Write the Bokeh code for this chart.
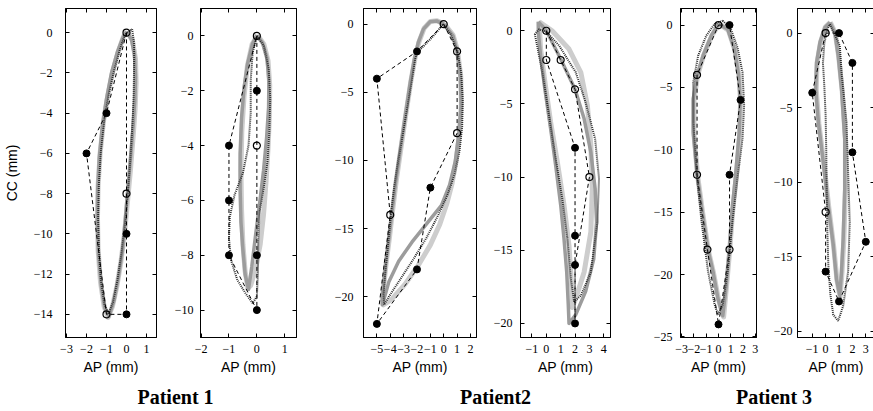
from bokeh.plotting import figure
from bokeh.layouts import row, column
from bokeh.models import Range1d, LinearAxis, FixedTicker, Label
from bokeh.embed import file_html
from bokeh.resources import INLINE

# ---------------- data ----------------
# Patient 1, left panel
p1_px = [0, -1, -2, -1, 0, 0, 0]
p1_py = [0, -4, -6, -14, -14, -10, -8]
p1_hollow = [1, 0, 0, 1, 0, 0, 1]
p1_mid_x = [0, 0.25, 0.4, 0.45, 0.42, 0.34, 0.22, 0.07, -0.06, -0.2, -0.4, -0.62, -0.88, -1.08, -1.26, -1.4, -1.46, -1.44, -1.36, -1.2, -1.0, -0.75, -0.45, -0.18]
p1_mid_y = [0.05, -0.35, -1.1, -2.2, -3.3, -4.5, -6, -7.7, -9.3, -10.8, -12.1, -13.3, -14.1, -13.7, -12.6, -11, -9.4, -7.8, -6.2, -4.6, -3.3, -2.0, -0.95, -0.25]
p1_lt_x = [0.05, 0.3, 0.45, 0.48, 0.43, 0.33, 0.2, 0.05, -0.1, -0.28, -0.48, -0.7, -0.92, -1.12, -1.3, -1.42, -1.45, -1.42, -1.32, -1.15, -0.93, -0.68, -0.4, -0.15]
p1_lt_y = [0.05, -0.4, -1.3, -2.5, -3.8, -5.2, -6.8, -8.4, -10, -11.4, -12.6, -13.6, -14.15, -13.6, -12.4, -10.8, -9.2, -7.6, -6, -4.4, -3.1, -1.9, -0.9, -0.2]
p1_dot_x = [0.28, 0.38, 0.38, 0.36, 0.3, 0.2, 0.07, -0.08, -0.25, -0.45, -0.68, -0.9, -1.1, -1.28, -1.38, -1.42, -1.38, -1.28, -1.1, -0.88, -0.62, -0.35, -0.08]
p1_dot_y = [0.18, -0.5, -1.6, -3, -4.5, -6.2, -7.9, -9.5, -11, -12.3, -13.4, -14.0, -13.5, -12.3, -10.8, -9.2, -7.5, -5.9, -4.3, -3, -1.9, -0.9, -0.1]

# Patient 1, right panel
p2_px = [0, 0, 0, 0, 0, -1, -1, -1]
p2_py = [0, -2, -4, -8, -10, -8, -6, -4]
p2_hollow = [1, 0, 1, 0, 0, 0, 0, 0]
p2_mid_x = [0, 0.2, 0.36, 0.43, 0.42, 0.35, 0.24, 0.1, -0.05, -0.18, -0.3, -0.42, -0.5, -0.57, -0.6, -0.6, -0.55, -0.46, -0.33, -0.16]
p2_mid_y = [0.02, -0.25, -0.8, -1.6, -2.6, -3.7, -4.9, -6.1, -7.3, -8.4, -9.25, -8.7, -7.8, -6.8, -5.6, -4.3, -3.0, -1.9, -1.0, -0.3]
p2_lt_x = [0.03, 0.25, 0.4, 0.46, 0.45, 0.4, 0.33, 0.24, 0.12, -0.05, -0.22, -0.32, -0.42, -0.5, -0.55, -0.57, -0.54, -0.46, -0.34, -0.17]
p2_lt_y = [0.02, -0.3, -0.9, -1.8, -2.9, -4.1, -5.3, -6.5, -7.6, -8.5, -9.1, -9.2, -8.6, -7.6, -6.3, -4.9, -3.5, -2.2, -1.1, -0.3]
p2_dot_x = [0, 0.25, 0.42, 0.48, 0.45, 0.38, 0.25, 0.1, 0.05, 0.04, 0.0, -0.15, -0.4, -0.7, -0.92, -1.0, -0.97, -0.8, -0.5, -0.3, -0.22, -0.22, -0.15]
p2_dot_y = [0, -0.35, -1.2, -2.3, -3.5, -4.6, -5.5, -6.4, -7.5, -8.6, -9.5, -9.75, -9.4, -8.9, -8.2, -7.4, -6.6, -5.8, -5.0, -4.0, -2.8, -1.6, -0.6]

# Patient 2, left panel
p3_px = [0, 1, 1, -1, -2, -5, -4, -5, -2]
p3_py = [0, -2, -8, -12, -18, -22, -14, -4, -2]
p3_hollow = [1, 1, 1, 0, 0, 0, 1, 0, 0]
p3_mid_x = [0, 0.69, 1.0, 1.25, 1.3, 1.13, 0.86, 0.44, -0.17, -1.15, -2.38, -3.37, -4.1, -4.47, -4.6, -4.55, -4.35, -4.1, -3.9, -3.6, -3.24, -2.87, -2.5, -2.19, -1.9, -1.52, -1.03, -0.54]
p3_mid_y = [0, -0.85, -2, -4, -6, -8, -10.1, -11.8, -13.3, -14.5, -16, -17.4, -18.9, -20.2, -20.6, -19.6, -17.7, -15.7, -14, -11.6, -9.15, -6.7, -4.27, -2.56, -1.34, -0.37, 0.17, 0.24]
p3_lt_x = [0.05, 0.7, 1.02, 1.27, 1.32, 1.2, 0.95, 0.62, 0.22, -0.3, -1.0, -1.9, -2.9, -3.9, -4.5, -4.6, -4.5, -4.3, -4.05, -3.85, -3.55, -3.2, -2.83, -2.46, -2.15, -1.85, -1.47, -1.0, -0.5]
p3_lt_y = [0, -0.8, -1.9, -3.8, -5.8, -7.9, -9.9, -11.7, -13.2, -14.7, -16.2, -17.7, -19.1, -20.2, -20.6, -20.2, -19.3, -17.5, -15.6, -13.9, -11.5, -9.1, -6.6, -4.2, -2.5, -1.3, -0.3, 0.2, 0.25]
p3_dot_x = [-0.05, 0.5, 1.0, 1.3, 1.42, 1.38, 1.18, 0.82, 0.3, -0.4, -1.3, -2.3, -3.3, -4.1, -4.45, -4.5, -4.35, -4.15, -3.95, -3.7, -3.4, -3.05, -2.7, -2.4, -2.15, -2.0, -1.5, -1.0, -0.5]
p3_dot_y = [0.0, -0.7, -1.9, -3.5, -5.5, -7.5, -9.3, -11.0, -12.5, -14.0, -15.7, -17.3, -18.8, -20.0, -20.6, -19.8, -18.0, -16.0, -14.0, -12.0, -10.0, -8.0, -6.0, -4.2, -2.6, -2.1, -1.6, -1.1, -0.55]

# Patient 2, right panel
p4_px = [0, 0, 2, 2, 2, 2, 3, 2, 1]
p4_py = [0, -2, -8, -14, -20, -16, -10, -4, -2]
p4_hollow = [1, 1, 0, 0, 0, 0, 1, 1, 1]
p4_mid_x = [-0.56, -0.3, 0, 1.0, 2.0, 2.63, 3.1, 3.4, 3.5, 3.3, 2.74, 2.05, 1.58, 1.53, 1.42, 1.23, 1.0, 0.65, 0.3, -0.1, -0.4, -0.56]
p4_mid_y = [0.61, 0.35, 0, -1.93, -4, -6.0, -8.3, -10.8, -13.1, -15.6, -17.8, -19.4, -20.0, -18.75, -16.5, -14.2, -11.9, -9.2, -6.7, -4, -1.7, -0.1]
p4_lt_x = [-0.5, 0.4, 1.58, 2.4, 2.86, 3.1, 3.2, 3.1, 2.63, 2.05, 1.8, 1.77, 1.58, 1.23, 0.77, 0.3, -0.1, -0.4]
p4_lt_y = [0.62, 0.0, -1.25, -2.84, -5.1, -7.8, -10.8, -13.75, -16.5, -18.3, -18.9, -17.6, -14.7, -11.9, -9.0, -6.25, -3.5, -1.25]
p4_dot_x = [-0.8, -0.28, 0.19, 0.65, 1.12, 1.47, 1.7, 1.93, 2.4, 3.1, 3.56, 3.67, 3.4, 2.74, 2.05, 0.88, 0.0, -0.5]
p4_dot_y = [-0.23, -2.84, -5.8, -8.75, -11.5, -14.2, -16.9, -18.5, -18.1, -16.5, -13.1, -10.1, -7.4, -4.9, -2.84, -1.0, -0.07, 0.1]

# Patient 3, left panel
p5_px = [0, 0.9, 1.8, 0.9, 0.9, 0, -0.9, -1.75, -1.75]
p5_py = [0, 0, -6, -12, -18, -24, -18, -12, -4]
p5_hollow = [1, 0, 0, 0, 1, 0, 1, 1, 1]
p5_mid_x = [0, 0.75, 1.29, 1.64, 1.77, 1.69, 1.42, 1.1, 0.88, 0.62, 0.35, -0.05, -0.46, -0.86, -1.34, -1.74, -2.06, -2.06, -1.74, -1.26, -0.59]
p5_mid_y = [0.08, -0.32, -1.9, -4.0, -6, -8.6, -11.75, -14.9, -18, -21, -23.3, -21.9, -19.7, -18, -14.9, -12, -8.6, -5.9, -4.04, -2.45, -0.85]
p5_lt_x = [0.05, 0.8, 1.33, 1.68, 1.8, 1.72, 1.47, 1.15, 0.92, 0.66, 0.42, 0.0, -0.42, -0.82, -1.3, -1.7, -2.0, -2.0, -1.7, -1.2, -0.52]
p5_lt_y = [0.1, -0.4, -2.0, -4.1, -6.2, -8.8, -11.9, -15.0, -18.0, -20.9, -23.4, -22.0, -19.8, -18.1, -15.0, -12.1, -8.8, -6.0, -4.0, -2.4, -0.8]
p5_dot_x = [0.35, 1.0, 1.55, 1.96, 2.09, 1.96, 1.55, 1.15, 0.75, 0.35, -0.05, -0.32, -0.86, -1.39, -1.8, -2.06, -2.06, -1.66, -1.0, -0.32]
p5_dot_y = [0.35, -0.3, -1.8, -3.8, -6.4, -9.1, -12.3, -15.7, -19.7, -22.4, -23.2, -22.4, -19.7, -15.7, -11.75, -7.8, -4.6, -2.45, -0.85, 0.08]

# Patient 3, right panel
p6_px = [0, 1, 2, 2, 3, 1, 0, 0, -1]
p6_py = [0, 0, -2, -8, -14, -18, -16, -12, -4]
p6_hollow = [1, 0, 0, 0, 0, 0, 0, 1, 0]
p6_mid_x = [0.32, 0.69, 0.94, 1.19, 1.43, 1.43, 1.31, 1.19, 1.06, 0.81, 0.57, 0.2, -0.17, -0.54, -0.74, -0.67, -0.42, -0.05]
p6_mid_y = [0.71, 0.04, -1.5, -3.75, -7.1, -10.4, -13.8, -16.0, -17.6, -16.5, -14.2, -11.6, -8.7, -6.0, -3.75, -1.96, -0.62, 0.38]
p6_lt_x = [0.35, 0.72, 0.98, 1.24, 1.48, 1.48, 1.36, 1.22, 1.08, 0.85, 0.6, 0.24, -0.12, -0.5, -0.7, -0.64, -0.38, -0.02]
p6_lt_y = [0.72, 0.0, -1.6, -3.9, -7.2, -10.5, -13.9, -16.1, -17.7, -16.6, -14.3, -11.7, -8.8, -6.1, -3.8, -2.0, -0.6, 0.4]
p6_dot_x = [0.32, 1.06, 1.19, 1.56, 1.68, 1.8, 1.68, 1.31, 0.94, 0.57, 0.35, 0.2, 0.12, 0.08, 0.05, 0.0, -0.1, -0.2, -0.1, 0.1]
p6_dot_y = [0.6, -0.85, -2.6, -6.0, -9.3, -12.7, -16.0, -18.3, -19.3, -18.9, -17.5, -15.5, -13.0, -10.5, -8.0, -5.5, -3.5, -2.0, -0.7, 0.2]

# axes: ranges and ticks
x_ranges = [(-3.05, 1.5), (-2.02, 1.42), (-6.0, 2.45), (-1.8, 4.47), (-3.1, 3.1), (-2.1, 3.65)]
y_ranges = [(-15.15, 1.2), (-11.0, 1.0), (-23.0, 1.15), (-20.96, 1.52), (-25.05, 1.33), (-20.42, 1.65)]
x_ticks = [[-3, -2, -1, 0, 1], [-2, -1, 0, 1], [-5, -4, -3, -2, -1, 0, 1, 2],
           [-1, 0, 1, 2, 3, 4], [-3, -2, -1, 0, 1, 2, 3], [-1, 0, 1, 2, 3]]
y_ticks = [[0, -2, -4, -6, -8, -10, -12, -14], [0, -2, -4, -6, -8, -10],
           [0, -5, -10, -15, -20], [0, -5, -10, -15, -20],
           [0, -5, -10, -15, -20, -25], [0, -5, -10, -15, -20]]
patients = ["Patient 1", "Patient2", "Patient 3"]

panels = [
    (p1_px, p1_py, p1_hollow, p1_lt_x, p1_lt_y, p1_mid_x, p1_mid_y, p1_dot_x, p1_dot_y),
    (p2_px, p2_py, p2_hollow, p2_lt_x, p2_lt_y, p2_mid_x, p2_mid_y, p2_dot_x, p2_dot_y),
    (p3_px, p3_py, p3_hollow, p3_lt_x, p3_lt_y, p3_mid_x, p3_mid_y, p3_dot_x, p3_dot_y),
    (p4_px, p4_py, p4_hollow, p4_lt_x, p4_lt_y, p4_mid_x, p4_mid_y, p4_dot_x, p4_dot_y),
    (p5_px, p5_py, p5_hollow, p5_lt_x, p5_lt_y, p5_mid_x, p5_mid_y, p5_dot_x, p5_dot_y),
    (p6_px, p6_py, p6_hollow, p6_lt_x, p6_lt_y, p6_mid_x, p6_mid_y, p6_dot_x, p6_dot_y),
]

# ---------------- layout / style ----------------
FRAME_H = 329
TOP = 8
BOTTOM = 41
frame_w = [91, 96, 113, 90, 76, 77]
border_l = [62, 41, 64, 41, 67, 38]
border_r = [3, 3, 3, 3, 3, 1]
label_standoff = [13, 7, 10, 8, 8, 5]
SERIF = "Liberation Serif"
SANS = "Liberation Sans"


def fmt(t):
    return ("\u2212" + str(abs(t))) if t < 0 else str(t)


def style_axis(ax, ticks, show, standoff):
    ax.ticker = FixedTicker(ticks=ticks)
    ax.major_tick_in = 4
    ax.major_tick_out = 0
    ax.minor_tick_line_color = None
    ax.axis_line_color = "black"
    ax.major_tick_line_color = "black"
    if show:
        ax.major_label_text_font = SERIF
        ax.major_label_text_font_size = "12px"
        ax.major_label_text_color = "black"
        ax.major_label_standoff = standoff
        ax.major_label_overrides = {t: fmt(t) for t in ticks}
    else:
        ax.major_label_text_font_size = "0px"
        ax.major_label_standoff = 0
        ax.axis_label_standoff = 0
        ax.major_label_overrides = {t: "" for t in ticks}


def closed(a):
    return list(a) + [a[0]]


figs = []
for i, (px, py, hol, ltx, lty, mdx, mdy, dtx, dty) in enumerate(panels):
    p = figure(frame_width=frame_w[i], frame_height=FRAME_H, title=None,
               x_range=Range1d(*x_ranges[i]), y_range=Range1d(*y_ranges[i]),
               output_backend="svg", toolbar_location=None,
               min_border_left=border_l[i], min_border_right=border_r[i],
               min_border_top=TOP, min_border_bottom=BOTTOM)
    p.grid.visible = False
    p.outline_line_color = "black"
    p.outline_line_width = 1
    p.background_fill_color = "white"
    p.border_fill_color = "white"

    ax_bottom = p.xaxis[0]
    ax_left = p.yaxis[0]
    style_axis(ax_bottom, x_ticks[i], True, 7)
    style_axis(ax_left, y_ticks[i], True, label_standoff[i])
    ax_top = LinearAxis()
    ax_right = LinearAxis()
    style_axis(ax_top, x_ticks[i], False, 0)
    style_axis(ax_right, y_ticks[i], False, 0)
    p.add_layout(ax_top, "above")
    p.add_layout(ax_right, "right")

    ax_bottom.axis_label = "AP (mm)"
    if i == 0:
        ax_left.axis_label = "CC (mm)"
    for ax in (ax_bottom, ax_left):
        ax.axis_label_text_font = SANS
        ax.axis_label_text_font_style = "normal"
        ax.axis_label_text_font_size = "14px"
        ax.axis_label_text_color = "black"
    ax_bottom.axis_label_standoff = 3
    ax_left.axis_label_standoff = 11

    p.line(closed(ltx), closed(lty), line_color="#cdcdcd", line_width=5, line_join="round")
    p.line(closed(mdx), closed(mdy), line_color="#9c9c9c", line_width=3.5, line_join="round")
    p.line(closed(dtx), closed(dty), line_color="#2e2e2e", line_width=2, line_dash="1 1")
    p.line(closed(px), closed(py), line_color="black", line_width=1, line_dash="4 3")

    fx = [x for x, h in zip(px, hol) if not h]
    fy = [y for y, h in zip(py, hol) if not h]
    hx = [x for x, h in zip(px, hol) if h]
    hy = [y for y, h in zip(py, hol) if h]
    p.scatter(fx, fy, size=7, marker="circle", fill_color="black", line_color="black")
    p.scatter(hx, hy, size=7, marker="circle", fill_color=None, line_color="black", line_width=1.2)
    figs.append(p)

# patient labels centred on the gap between the two panels of each pair
total_w = sum(frame_w) + sum(border_l) + sum(border_r)
LAB_H = 410 - (TOP + FRAME_H + BOTTOM)
lab = figure(width=total_w, height=LAB_H, title=None, x_range=Range1d(0, total_w), y_range=Range1d(0, LAB_H),
             output_backend="svg", toolbar_location=None, min_border=0,
             x_axis_location=None, y_axis_location=None)
lab.grid.visible = False
lab.outline_line_color = None
lefts = []
acc = 0
for i in range(6):
    lefts.append(acc + border_l[i])
    acc += border_l[i] + frame_w[i] + border_r[i]
for k, name in enumerate(patients):
    a = 2 * k
    gap_c = (lefts[a] + frame_w[a] + lefts[a + 1]) / 2
    lab.add_layout(Label(x=gap_c, y=LAB_H / 2 - 2, text=name, text_align="center", text_baseline="middle",
                         text_font=SERIF, text_font_style="bold", text_font_size="20px",
                         text_color="black"))

layout = column(row(*figs, spacing=0), lab, spacing=0)
open("out.html", "w").write(file_html(layout, INLINE))
